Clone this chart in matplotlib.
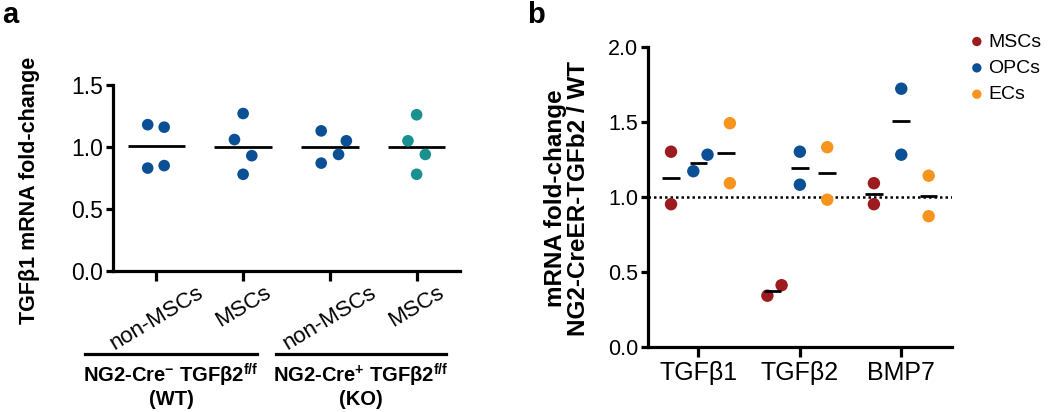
import numpy as np
import matplotlib
matplotlib.use('Agg')
import matplotlib.pyplot as plt
import matplotlib.transforms as mtransforms

plt.rcParams['font.family'] = ['Liberation Sans', 'DejaVu Sans']
plt.rcParams['mathtext.default'] = 'regular'

# panel a data ################################################################
a_groups = ['non-MSCs', 'MSCs', 'non-MSCs', 'MSCs']
a_values = [[1.18, 1.16, 0.83, 0.85],
            [1.27, 1.06, 0.93, 0.78],
            [1.13, 1.05, 0.94, 0.87],
            [1.26, 1.05, 0.94, 0.78]]
a_means = [1.01, 1.00, 1.00, 1.00]
a_jitter = [[-0.10, 0.09, -0.10, 0.09],
            [0.0, -0.10, 0.10, 0.0],
            [-0.10, 0.19, 0.10, -0.10],
            [0.0, -0.10, 0.10, 0.0]]
a_colors = ['#0b4f94', '#0b4f94', '#0b4f94', '#1a9190']
a_brackets = [r'NG2-Cre$^{-}$ TGFβ2$^{f/f}$' + '\n(WT)',
              r'NG2-Cre$^{+}$ TGFβ2$^{f/f}$' + '\n(KO)']

# panel b data ################################################################
b_genes = ['TGFβ1', 'TGFβ2', 'BMP7']
b_series = ['MSCs', 'OPCs', 'ECs']
b_colors = ['#9b1b1e', '#0b4f94', '#f7941d']
b_values = {'MSCs': [[1.30, 0.95], [0.34, 0.41], [1.09, 0.95]],
            'OPCs': [[1.17, 1.28], [1.30, 1.08], [1.72, 1.28]],
            'ECs':  [[1.49, 1.09], [1.33, 0.98], [1.14, 0.87]]}
b_means = {'MSCs': [1.127, 0.373, 1.02],
           'OPCs': [1.228, 1.189, 1.502],
           'ECs':  [1.291, 1.155, 1.006]}
b_jitter = {'MSCs': [[0.0, 0.0], [-0.05, 0.09], [0.0, 0.0]],
            'OPCs': [[-0.05, 0.09], [0.0, 0.0], [0.0, 0.0]],
            'ECs':  [[0.04, 0.04], [0.0, 0.0], [0.0, 0.0]]}
b_offsets = [-0.27, 0.0, 0.27]

###############################################################################
fig = plt.figure(figsize=(10.5, 4.12), dpi=100)

def style_axes(ax, ysize):
    for s in ['top', 'right']:
        ax.spines[s].set_visible(False)
    for s in ['left', 'bottom']:
        ax.spines[s].set_linewidth(2.3)
    ax.tick_params(axis='both', width=2.3, direction='out')
    ax.tick_params(axis='y', length=5, labelsize=ysize, pad=2)

# panel a
axa = fig.add_axes([113/1050, 1-271/412, (460-113)/1050, (271-85)/412])
style_axes(axa, 16.5)
for i, vals in enumerate(a_values):
    xs = i + np.array(a_jitter[i])
    axa.scatter(xs, vals, s=70, color=a_colors[i], edgecolors='none', zorder=3)
    axa.hlines(a_means[i], i - 0.33, i + 0.33, color='black', lw=2.0, zorder=2)
axa.set_xlim(-0.5, 3.5)
axa.set_ylim(0, 1.5)
axa.set_yticks([0, 0.5, 1.0, 1.5])
axa.yaxis.set_major_formatter(plt.FormatStrFormatter('%.1f'))
axa.set_xticks(range(len(a_groups)))
axa.set_xticklabels(a_groups, rotation=31, fontsize=16, ha='center')
axa.tick_params(axis='x', length=7, pad=1)
fig.text(30/1050, 1-190/412, 'TGFβ1 mRNA fold-change', rotation=90,
         ha='center', va='center', fontsize=15.5, fontweight='bold')

trans = mtransforms.blended_transform_factory(axa.transData, fig.transFigure)
for (x0, x1), lab in zip([(-0.82, 1.16), (1.38, 3.34)], a_brackets):
    axa.plot([x0, x1], [1-354/412, 1-354/412], color='black', lw=2.3,
             transform=trans, clip_on=False)
    axa.text((x0 + x1) / 2, 1-362/412, lab, transform=trans, ha='center',
             va='top', fontsize=14.5, fontweight='bold', linespacing=1.05)

# panel b
axb = fig.add_axes([647.7/1050, 1-346.7/412, (952-647.7)/1050, 300/412])
style_axes(axb, 15.5)
for k, name in enumerate(b_series):
    for g in range(len(b_genes)):
        xc = g + b_offsets[k]
        xs = xc + np.array(b_jitter[name][g])
        axb.scatter(xs, b_values[name][g], s=80, color=b_colors[k],
                    edgecolors='none', zorder=3,
                    label=name if g == 0 else None)
        axb.hlines(b_means[name][g], xc - 0.087, xc + 0.087, color='black',
                   lw=2.0, zorder=4)
axb.axhline(1.0, color='black', lw=1.8, ls=(0, (1, 1.2)), zorder=1)
axb.set_xlim(-0.5, 2.5)
axb.set_ylim(0, 2.0)
axb.set_yticks([0, 0.5, 1.0, 1.5, 2.0])
axb.yaxis.set_major_formatter(plt.FormatStrFormatter('%.1f'))
axb.set_xticks(range(len(b_genes)))
axb.set_xticklabels(b_genes, fontsize=18)
axb.tick_params(axis='x', length=7, pad=3)
fig.text(567/1050, 1-198/412, 'mRNA fold-change\nNG2-CreER-TGFb2 / WT',
         rotation=90, ha='center', va='center', fontsize=17.5,
         fontweight='bold', linespacing=0.95)

leg = axb.legend(loc='upper left', bbox_to_anchor=(971/1050, 1-33/412),
                 bbox_transform=fig.transFigure, frameon=False, fontsize=14,
                 handlelength=0.6, handletextpad=0.3, labelspacing=0.45,
                 borderpad=0, borderaxespad=0, markerscale=0.75)

fig.text(0.002, 1-23/412, 'a', fontsize=21, fontweight='bold', va='baseline')
fig.text(527/1050, 1-23/412, 'b', fontsize=21, fontweight='bold', va='baseline')

plt.savefig('out.png', dpi=100)
